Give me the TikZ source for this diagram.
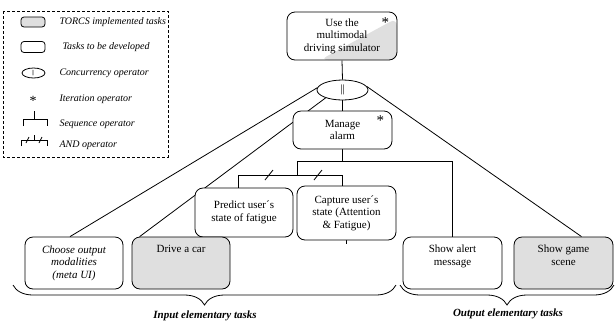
\documentclass[tikz,border=0pt]{standalone}
\usepackage{fontspec}
\setmainfont{Liberation Serif}
\usetikzlibrary{calc,shapes.geometric,decorations.pathreplacing}
\pgfdeclarelayer{bg}
\pgfsetlayers{bg,main}
\tikzset{
  every node/.style={font=\fontsize{11}{12.5}\selectfont},
  task/.style={draw, rounded corners=8pt, fill=white, align=center, line width=0.8pt, inner sep=2pt},
  torcs/.style={task, fill=gray!25},
  conc/.style={draw, ellipse, fill=white, inner sep=0pt, line width=0.8pt},
  legtext/.style={anchor=west, font=\fontsize{10}{12}\selectfont\itshape},
  iter/.style={font=\fontsize{15}{15}\selectfont, inner sep=0pt},
  link/.style={line width=0.8pt},
  tasksbrace/.style={decorate, decoration={brace, mirror, amplitude=20pt}, line width=0.8pt},
  grouptext/.style={font=\fontsize{11}{12.5}\selectfont\bfseries\itshape}
}

\begin{document}
\begin{tikzpicture}[x=1pt, y=-1pt]
		\useasboundingbox (0,0) rectangle (615,325);
		
		%%%%% LEGEND %%%%%
		
		\draw[line width=0.9pt, dash pattern=on 3pt off 2pt] (3,11) rectangle (168,157);
		
		\node[torcs, minimum width=24pt, minimum height=10pt, rounded corners=3pt, inner sep=0pt] (lgTorcs) at (33,22) {};
		\node[legtext] (lgTorcsTxt) at (56,22) {TORCS implemented tasks};
		\node[task, minimum width=24pt, minimum height=11pt, rounded corners=3pt, inner sep=0pt] (lgTask) at (33,47) {};
		\node[legtext] (lgTaskTxt) at (59,47) {Tasks to be developed};
		\node[conc, minimum width=23pt, minimum height=10pt, font=\fontsize{6}{6}\selectfont] (lgConc) at (33.5,73) {||};
		\node[legtext] (lgConcTxt) at (56,73) {Concurrency operator};
		\node[iter, font=\fontsize{14}{14}\selectfont] (lgIter) at (33,101) {*};
		\node[legtext] (lgIterTxt) at (56,99) {Iteration operator};
		
		\draw[link] (34,111) -- (34,119) (23,126) -- (23,119) -- (47,119) -- (47,126);
		\node[legtext] (lgSeqTxt) at (56,124) {Sequence operator};
		
		\draw[link] (34,135) -- (34,140) (21,146) -- (21,140) -- (47,140) -- (47,146);
		\draw[link] (26,143) -- (29,137) (39,143) -- (42,137);
		\node[legtext] (lgAndTxt) at (56,145) {AND operator};
		
		%%%%% TASKS %%%%%
		
		\node[task, minimum width=110pt, minimum height=48pt,
		      path picture={\fill[gray!25] ($(path picture bounding box.north east)+(0,6)$) -- (path picture bounding box.south east) -- ($(path picture bounding box.south west)!0.3!(path picture bounding box.south east)$) -- cycle;}]
		      (useSim) at (342,36) {Use the\\multimodal\\driving simulator};
		\node[iter] (useIter) at ($(useSim.north east)+(-12,11)$) {*};
		
		\node[conc, minimum width=51pt, minimum height=20pt] (par) at (342.5,90) {||};
		
		\node[task, minimum width=99pt, minimum height=38pt] (alarm) at (342.5,130) {Manage\\alarm};
		\node[iter] (alarmIter) at ($(alarm.north east)+(-12,10)$) {*};
		
		\node[task, minimum width=98pt, minimum height=49pt] (predict) at (244,212.5) {Predict user´s\\state of fatigue};
		\node[task, minimum width=99pt, minimum height=54pt] (capture) at (346.5,213) {Capture user´s\\state (Attention\\\& Fatigue)};
		
		\node[task, minimum width=98pt, minimum height=52pt, font=\fontsize{11}{12.5}\selectfont\itshape] (choose) at (74,263) {Choose output\\modalities\\(meta UI)};
		\node[torcs, minimum width=98pt, minimum height=52pt, label={[anchor=north, yshift=-5pt]north:Drive a car}] (drive) at (181,263) {};
		\node[task, minimum width=99pt, minimum height=52pt, label={[anchor=north, align=center, yshift=-5pt]north:Show alert\\message}] (alert) at (452.5,263) {};
		\node[torcs, minimum width=99pt, minimum height=52pt, label={[anchor=north, align=center, yshift=-5pt]north:Show game\\scene}] (game) at (563.5,263) {};
		
		%%%%% CONNECTORS %%%%%
		
		\begin{pgfonlayer}{bg}
		\draw[link] (useSim.south) -- (par.north);
		\draw[link] (par.south) -- (alarm.north);
		\draw[link] (par.175) -- ($(choose.north)+(-4,0)$);
		\draw[link] (par.205) -- ($(drive.north west)+(8,0)$);
		\draw[link] (par.8) -- ($(game.north)+(18,0)$);
		
		\coordinate (seqL) at (297,161);
		\draw[link] (alarm.south) -- (alarm.south |- seqL);
		\draw[link] (seqL) -- (alert.north |- seqL) -- (alert.north);
		
		\coordinate (andL) at (238,175);
		\coordinate (andR) at (342,175);
		\draw[link] (seqL) -- (seqL |- andL);
		\draw[link] (andL |- predict.north) -- (andL) -- (andR) -- (andR |- capture.north);
		\draw[link] (265,180) -- (273,170) (314,180) -- (322,170);
		\draw[link] (capture.south) -- ++(0,4);
		\end{pgfonlayer}
		
		%%%%% GROUPS %%%%%
		
		\draw[tasksbrace] (13,285) -- (396,285);
		\node[grouptext] (inLbl) at (205,316) {Input elementary tasks};
		\draw[tasksbrace] (400,285) -- (614,285);
		\node[grouptext] (outLbl) at (508,314) {Output elementary tasks};
		
	\end{tikzpicture}
\end{document}
